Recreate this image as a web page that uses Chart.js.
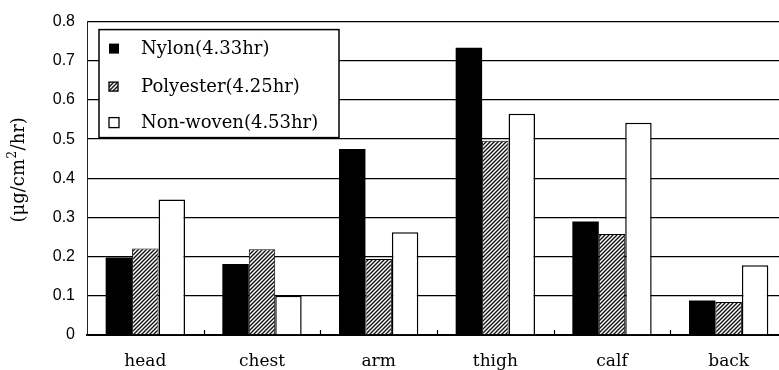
<!DOCTYPE html>
<html>
<head>
<meta charset="utf-8">
<script src="https://cdn.jsdelivr.net/npm/chart.js@4.4.1/dist/chart.umd.min.js"></script>
<style>
  html, body { margin: 0; padding: 0; background: #fff; overflow: hidden; width: 779px; height: 370px; }
  #wrap { position: relative; width: 787px; height: 370px; }
</style>
</head>
<body>
<div id="wrap"><canvas id="c" width="787" height="370"></canvas></div>
<script>
const categories = ['head', 'chest', 'arm', 'thigh', 'calf', 'back'];
const seriesLabels = ['Nylon(4.33hr)', 'Polyester(4.25hr)', 'Non-woven(4.53hr)'];
const nylon = [0.198, 0.181, 0.475, 0.733, 0.290, 0.088];
const polyester = [0.221, 0.219, 0.194, 0.496, 0.258, 0.084];
const nonwoven = [0.346, 0.100, 0.262, 0.565, 0.542, 0.178];
const yTicks = [0, 0.1, 0.2, 0.3, 0.4, 0.5, 0.6, 0.7, 0.8];
const yTitleParts = ['(μg/cm', '2', '/hr)'];

function makeHatch() {
  const s = 4;
  const cv = document.createElement('canvas');
  cv.width = s; cv.height = s;
  const g = cv.getContext('2d');
  g.fillStyle = '#fff';
  g.fillRect(0, 0, s, s);
  g.strokeStyle = '#111';
  g.lineWidth = 1.4;
  g.beginPath();
  g.moveTo(-1, s + 1); g.lineTo(s + 1, -1);
  g.moveTo(-1, 1); g.lineTo(1, -1);
  g.moveTo(s - 1, s + 1); g.lineTo(s + 1, s - 1);
  g.stroke();
  return document.getElementById('c').getContext('2d').createPattern(cv, 'repeat');
}
const hatch = makeHatch();

const serif = "'DejaVu Serif', serif";

const yTitlePlugin = {
  id: 'yTitlePlugin',
  afterDraw(chart) {
    const ctx = chart.ctx;
    const ca = chart.chartArea;
    ctx.save();
    ctx.translate(18, (ca.top + ca.bottom) / 2 - 8);
    ctx.rotate(-Math.PI / 2);
    ctx.fillStyle = '#000';
    ctx.textBaseline = 'middle';
    ctx.textAlign = 'left';
    const big = '18px ' + serif, small = '12px ' + serif;
    ctx.font = big;
    const w0 = ctx.measureText(yTitleParts[0]).width;
    const w2 = ctx.measureText(yTitleParts[2]).width;
    ctx.font = small;
    const w1 = ctx.measureText(yTitleParts[1]).width;
    let x = -(w0 + w1 + w2) / 2;
    ctx.font = big;
    ctx.fillText(yTitleParts[0], x, 1);
    x += w0;
    ctx.font = small;
    ctx.fillText(yTitleParts[1], x + 0.5, -5);
    x += w1 + 1;
    ctx.font = big;
    ctx.fillText(yTitleParts[2], x, 1);
    ctx.restore();
  }
};

const boxLegend = {
  id: 'boxLegend',
  afterDraw(chart) {
    const ctx = chart.ctx;
    const ca = chart.chartArea;
    const x0 = ca.left + 12, y0 = ca.top + 8, w = 240, h = 108;
    ctx.save();
    ctx.fillStyle = '#fff';
    ctx.fillRect(x0, y0, w, h);
    ctx.strokeStyle = '#000';
    ctx.lineWidth = 1.5;
    ctx.strokeRect(x0, y0, w, h);
    ctx.font = '18px ' + serif;
    ctx.textBaseline = 'middle';
    ctx.textAlign = 'left';
    const rows = [19, 57, 93];
    chart.data.datasets.forEach((ds, i) => {
      const cy = y0 + rows[i];
      const sz = i === 1 ? 9 : 10;
      const mx = x0 + 10;
      ctx.fillStyle = ds.backgroundColor;
      ctx.fillRect(mx, cy - sz / 2, sz, sz);
      if (i > 0) {
        ctx.lineWidth = 1.3;
        ctx.strokeStyle = '#000';
        ctx.strokeRect(mx, cy - sz / 2, sz, sz);
      }
      ctx.fillStyle = '#000';
      ctx.fillText(ds.label, x0 + 42, cy + 1);
    });
    ctx.restore();
  }
};

const upTicks = {
  id: 'upTicks',
  afterDatasetsDraw(chart) {
    const ctx = chart.ctx;
    const xs = chart.scales.x;
    const ca = chart.chartArea;
    const half = (xs.getPixelForValue(1) - xs.getPixelForValue(0)) / 2;
    ctx.save();
    ctx.strokeStyle = '#000';
    ctx.lineWidth = 1.2;
    ctx.beginPath();
    for (let i = 1; i < categories.length; i++) {
      const x = Math.round(xs.getPixelForValue(i) - half) + 0.5;
      ctx.moveTo(x, ca.bottom);
      ctx.lineTo(x, ca.bottom - 5);
    }
    ctx.stroke();
    ctx.restore();
  }
};

new Chart(document.getElementById('c'), {
  type: 'bar',
  data: {
    labels: categories,
    datasets: [
      { label: seriesLabels[0], data: nylon, backgroundColor: '#000', borderColor: '#000', borderWidth: 0 },
      { label: seriesLabels[1], data: polyester, backgroundColor: hatch, borderColor: '#000', borderWidth: 1 },
      { label: seriesLabels[2], data: nonwoven, backgroundColor: '#fff', borderColor: '#000', borderWidth: 1.5 }
    ]
  },
  options: {
    responsive: false,
    animation: false,
    devicePixelRatio: 1,
    layout: { padding: { top: 15, left: 0, right: 0, bottom: 0 } },
    datasets: { bar: { categoryPercentage: 0.68, barPercentage: 1.0 } },
    plugins: { legend: { display: false }, tooltip: { enabled: false } },
    scales: {
      x: {
        grid: { display: false, drawTicks: false },
        border: { display: true, color: '#000', width: 2 },
        ticks: { color: '#000', font: { family: serif, size: 17 }, padding: 16 },
        afterFit(s) { s.height = 35; }
      },
      y: {
        min: 0, max: 0.8,
        afterBuildTicks(s) { s.ticks = yTicks.map(v => ({ value: v })); },
        grid: { color: '#000', lineWidth: 1.3, drawTicks: false },
        border: { display: true, color: '#222', width: 1 },
        ticks: {
          color: '#000', padding: 12,
          font: { family: "'Liberation Sans', Arial, sans-serif", size: 16 },
          callback: v => (v === 0 ? '0' : v.toFixed(1))
        },
        title: { display: false },
        afterFit(s) { s.width = 87; }
      }
    }
  },
  plugins: [upTicks, yTitlePlugin, boxLegend]
});
</script>
</body>
</html>
